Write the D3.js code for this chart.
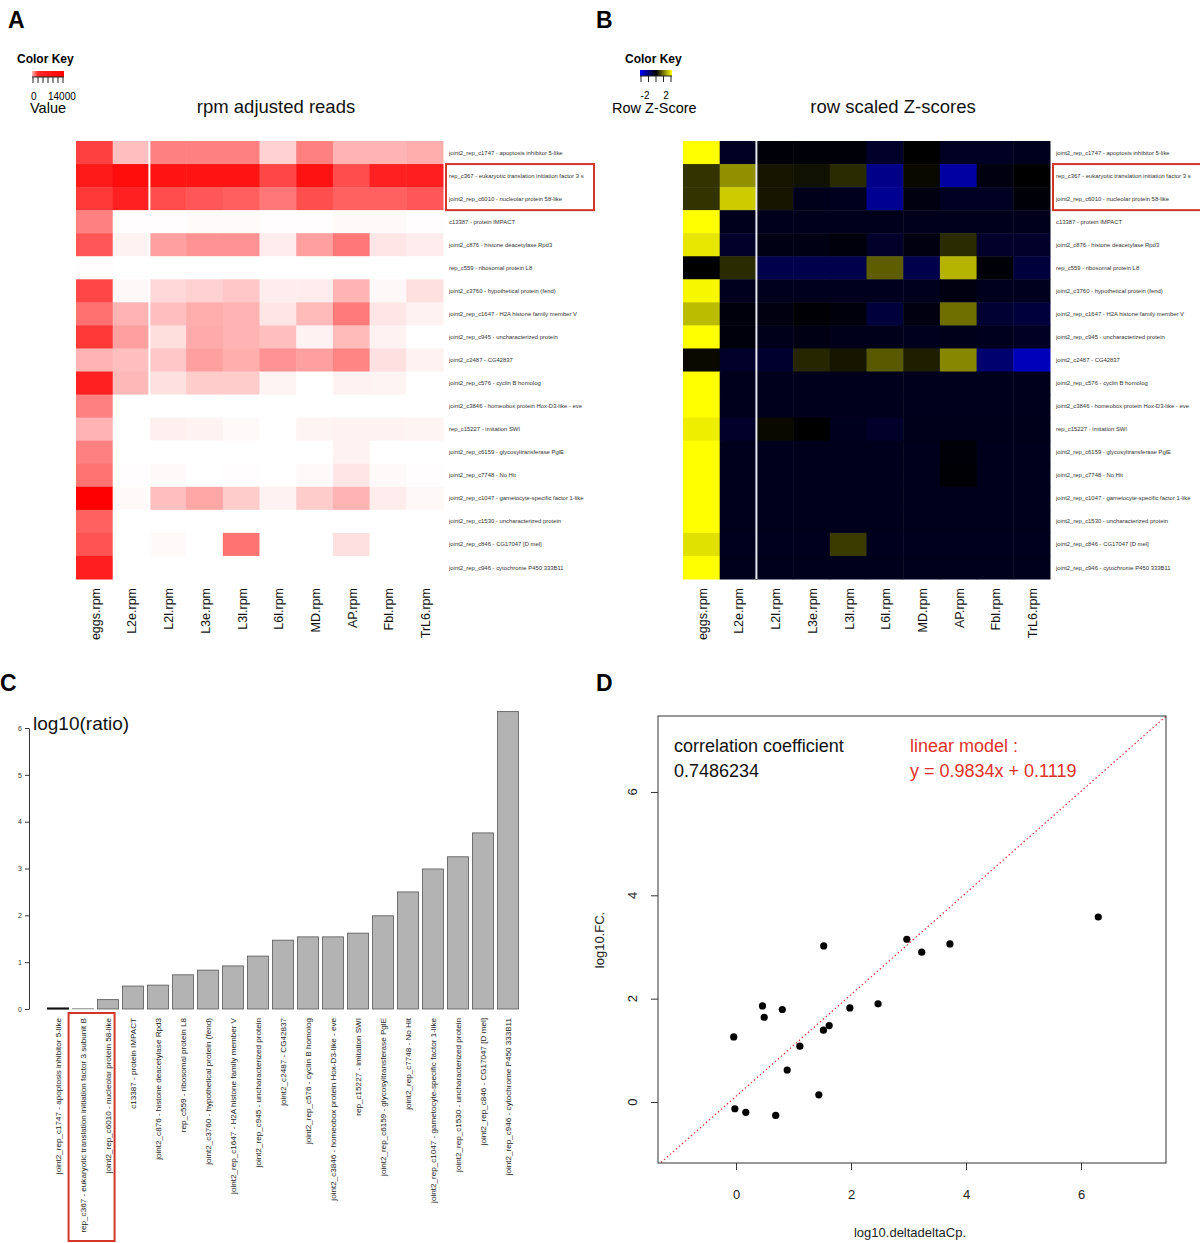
<!DOCTYPE html>
<html><head><meta charset="utf-8">
<script src="https://cdn.jsdelivr.net/npm/d3@7"></script>
<style>body{margin:0;background:#fff}svg{display:block}text{font-family:"Liberation Sans",Arial,sans-serif}</style>
</head><body><svg id="c" width="1200" height="1243"></svg>
<script>
const cols = ["eggs.rpm","L2e.rpm","L2l.rpm","L3e.rpm","L3l.rpm","L6l.rpm","MD.rpm","AP.rpm","Fbl.rpm","TrL6.rpm"];
const genes = [
"joint2_rep_c1747 - apoptosis inhibitor 5-like",
"rep_c367 - eukaryotic translation initiation factor 3 s",
"joint2_rep_c6010 - nucleolar protein 58-like",
"c13387 - protein IMPACT",
"joint2_c876 - histone deacetylase Rpd3",
"rep_c559 - ribosomal protein L8",
"joint2_c3760 - hypothetical protein (fend)",
"joint2_rep_c1647 - H2A histone family member V",
"joint2_rep_c945 - uncharacterized protein",
"joint2_c2487 - CG42837",
"joint2_rep_c576 - cyclin B homolog",
"joint2_c3846 - homeobox protein Hox-D3-like - eve",
"rep_c15227 - imitation SWI",
"joint2_rep_c6159 - glycosyltransferase PglE",
"joint2_rep_c7748 - No Hit",
"joint2_rep_c1047 - gametocyte-specific factor 1-like",
"joint2_rep_c1530 - uncharacterized protein",
"joint2_rep_c846 - CG17047 [D mel]",
"joint2_rep_c946 - cytochrome P450 333B11"];
const rpm = [
[10500,3500,7000,7000,7000,2500,7000,4200,4200,4500],
[12600,13300,12900,12900,12900,10100,13000,9800,12200,12300],
[10900,12200,9800,9200,8800,7400,9700,8700,8700,9200],
[7000,100,100,200,200,100,100,300,300,100],
[9200,700,5200,6000,6000,1000,5200,7400,1400,1000],
[100,0,0,0,0,0,0,0,0,0],
[10100,400,2100,2500,3100,1000,1000,4200,400,1700],
[7800,4200,3500,4500,4200,1400,3800,7300,1400,700],
[10900,5200,1800,4600,4200,3500,700,3800,700,0],
[4200,3500,3100,5200,4500,6000,5200,6700,1700,700],
[12200,3900,1700,2800,2800,600,0,700,600,0],
[7000,0,0,0,0,0,0,0,0,0],
[4200,0,800,700,300,0,600,700,700,600],
[7000,0,0,0,0,0,0,700,0,0],
[7700,100,300,0,100,0,300,1400,300,100],
[14000,300,3500,4900,2800,700,2800,4200,1000,400],
[8700,0,0,0,0,0,0,0,0,0],
[9500,0,300,0,7700,0,0,1700,0,0],
[12300,0,0,0,0,0,0,0,0,0]];
const zscores = [
[3,-0.4,-0.1,-0.1,-0.1,-0.5,0,-0.4,-0.4,-0.35],
[0.6,1.7,0.25,0.2,0.5,-1.6,0.1,-1.9,-0.2,0],
[0.6,2.4,0.25,-0.3,-0.35,-1.7,-0.2,-0.4,-0.4,-0.1],
[3,-0.33,-0.33,-0.33,-0.33,-0.33,-0.33,-0.33,-0.33,-0.33],
[2.7,-0.5,-0.25,-0.25,-0.15,-0.5,-0.2,0.5,-0.5,-0.5],
[0,0.5,-0.9,-0.9,-0.9,1.1,-0.9,2.1,-0.1,-0.7],
[2.9,-0.35,-0.35,-0.35,-0.35,-0.35,-0.35,-0.2,-0.35,-0.35],
[2.2,-0.15,-0.2,-0.05,-0.15,-0.7,-0.2,1.3,-0.6,-0.7],
[3,-0.15,-0.3,-0.25,-0.3,-0.3,-0.35,-0.3,-0.35,-0.4],
[0.1,-0.5,-0.55,0.45,0.25,1.05,0.35,1.6,-1.3,-2.2],
[3,-0.33,-0.33,-0.33,-0.33,-0.33,-0.33,-0.33,-0.33,-0.33],
[3,-0.33,-0.33,-0.33,-0.33,-0.33,-0.33,-0.33,-0.33,-0.33],
[2.8,-0.5,0.1,0,-0.35,-0.5,-0.3,-0.3,-0.3,-0.3],
[3,-0.33,-0.33,-0.33,-0.33,-0.33,-0.33,-0.1,-0.33,-0.33],
[3,-0.33,-0.33,-0.33,-0.33,-0.33,-0.33,-0.05,-0.33,-0.33],
[3,-0.33,-0.33,-0.33,-0.33,-0.33,-0.33,-0.33,-0.33,-0.33],
[3,-0.33,-0.33,-0.33,-0.33,-0.33,-0.33,-0.33,-0.33,-0.33],
[2.65,-0.35,-0.35,-0.35,0.7,-0.35,-0.35,-0.35,-0.35,-0.35],
[3,-0.33,-0.33,-0.33,-0.33,-0.33,-0.33,-0.33,-0.33,-0.33]];
const barLabels = [
"joint2_rep_c1747 - apoptosis inhibitor 5-like",
"rep_c367 - eukaryotic translation initiation factor 3 subunit B",
"joint2_rep_c6010 - nucleolar protein 58-like",
"c13387 - protein IMPACT",
"joint2_c876 - histone deacetylase Rpd3",
"rep_c559 - ribosomal protein L8",
"joint2_c3760 - hypothetical protein (fend)",
"joint2_rep_c1647 - H2A histone family member V",
"joint2_rep_c945 - uncharacterized protein",
"joint2_c2487 - CG42837",
"joint2_rep_c576 - cyclin B homolog",
"joint2_c3846 - homeobox protein Hox-D3-like - eve",
"rep_c15227 - imitation SWI",
"joint2_rep_c6159 - glycosyltransferase PglE",
"joint2_rep_c7748 - No Hit",
"joint2_rep_c1047 - gametocyte-specific factor 1-like",
"joint2_rep_c1530 - uncharacterized protein",
"joint2_rep_c846 - CG17047 [D mel]",
"joint2_rep_c946 - cytochrome P450 333B11"];
const barValues = [0.02,0.01,0.2,0.49,0.51,0.73,0.83,0.92,1.13,1.47,1.54,1.54,1.62,1.99,2.5,2.99,3.25,3.76,6.35];
const barTicks = [0,1,2,3,4,5,6];
const scatterX = [-0.04,-0.02,0.17,0.46,0.49,0.69,0.805,0.89,1.11,1.44,1.52,1.525,1.62,1.98,2.47,2.97,3.23,3.72,6.3];
const scatterY = [1.26,-0.13,-0.2,1.86,1.64,-0.26,1.79,0.62,1.08,0.14,1.39,3.02,1.48,1.82,1.9,3.15,2.9,3.06,3.58];
const scatterTicks = [0,2,4,6];
const lmSlope = 0.9834, lmIntercept = 0.1119;

const svg = d3.select("#c");
const redBox = "#d2352a";

[["A",8,28],["B",596,28],["C",0,691],["D",596,691]].forEach(([t,x,y])=>
  svg.append("text").attr("x",x).attr("y",y).attr("font-size",23).attr("font-weight","bold").text(t));

function heatmap(x0, x1, color, values, title, titleX, sepColor){
  const x = d3.scaleBand().domain(cols).range([x0,x1]);
  const y = d3.scaleBand().domain(genes).range([141,579]);
  const g = svg.append("g");
  genes.forEach((gn,i)=>cols.forEach((c,j)=>{
    g.append("rect").attr("x",x(c)).attr("y",y(gn)).attr("width",x.bandwidth()+0.5).attr("height",y.bandwidth()+0.5)
     .attr("fill",color(values[i][j]));
  }));
  g.append("line").attr("x1",x(cols[2])).attr("x2",x(cols[2])).attr("y1",141).attr("y2",579)
   .attr("stroke",sepColor).attr("stroke-width",2);
  genes.forEach(gn=>g.append("text").attr("x",x1+6).attr("y",y(gn)+y.bandwidth()/2).attr("dy","0.35em")
    .attr("font-size",5.9).attr("fill","#333").text(gn));
  cols.forEach(c=>g.append("text").attr("transform",`translate(${x(c)+x.bandwidth()/2+1},588) rotate(-90)`)
    .attr("text-anchor","end").attr("dy","0.35em").attr("font-size",12.5).attr("fill","#111").text(c));
  svg.append("text").attr("x",titleX).attr("y",113).attr("text-anchor","middle").attr("font-size",18.5).attr("fill","#111").text(title);
  svg.append("rect").attr("x",x1+3).attr("y",y(genes[1])).attr("width",148).attr("height",y.bandwidth()*2)
    .attr("fill","none").attr("stroke",redBox).attr("stroke-width",2);
}
const redScale = d3.scaleLinear().domain([0,14000]).range(["#ffffff","#ff0000"]).clamp(true);
const zScale = d3.scaleLinear().domain([-3,0,3]).range(["#0000ff","#000000","#ffff00"]).clamp(true);
heatmap(76,443,redScale,rpm,"rpm adjusted reads",276,"#ffffff");
heatmap(683,1050,zScale,zscores,"row scaled Z-scores",893,"#e8e8f0");

const defs = svg.append("defs");
const gA = defs.append("linearGradient").attr("id","gA");
[[0,"#ffb8b8"],[0.18,"#ff2a2a"],[1,"#ff0000"]].forEach(([o,c])=>gA.append("stop").attr("offset",o).attr("stop-color",c));
const gB = defs.append("linearGradient").attr("id","gB");
[[0,"#0000ff"],[0.5,"#000000"],[1,"#ffff00"]].forEach(([o,c])=>gB.append("stop").attr("offset",o).attr("stop-color",c));
function key(x, y, w, grad, nt){
  svg.append("rect").attr("x",x).attr("y",y).attr("width",w).attr("height",6).attr("fill",`url(#${grad})`);
  for(let i=0;i<nt;i++){const tx=x+1+i*(w-2)/(nt-1);
    svg.append("line").attr("x1",tx).attr("x2",tx).attr("y1",y+6).attr("y2",y+12).attr("stroke","#222").attr("stroke-width",1);}
  svg.append("line").attr("x1",x).attr("x2",x+w).attr("y1",y+6).attr("y2",y+6).attr("stroke","#222");
}
svg.append("text").attr("x",17).attr("y",63).attr("font-size",12).attr("font-weight","bold").text("Color Key");
key(32,71,32,"gA",7);
svg.append("text").attr("x",31).attr("y",100).attr("font-size",10).text("0");
svg.append("text").attr("x",48).attr("y",100).attr("font-size",10).text("14000");
svg.append("text").attr("x",30).attr("y",113).attr("font-size",14.5).text("Value");
svg.append("text").attr("x",625).attr("y",63).attr("font-size",12).attr("font-weight","bold").text("Color Key");
key(640,70,32,"gB",5);
svg.append("text").attr("x",645).attr("y",99).attr("text-anchor","middle").attr("font-size",10).text("-2");
svg.append("text").attr("x",666).attr("y",99).attr("text-anchor","middle").attr("font-size",10).text("2");
svg.append("text").attr("x",612).attr("y",113).attr("font-size",14.5).text("Row Z-Score");

// Panel C
const xC = d3.scaleBand().domain(barLabels).range([45.5,520.5]).paddingInner(0.1667).paddingOuter(0.0833);
const yC = d3.scaleLinear().domain([0,6]).range([1009,728]);
const gC = svg.append("g");
barLabels.forEach((l,i)=>{
  const fill = i===0?"#222":(i===1?"#d8d8d8":"#b3b3b3");
  const stroke = i===0?"#111":(i===1?"#aaa":"#555");
  gC.append("rect").attr("x",xC(l)).attr("y",yC(barValues[i])).attr("width",xC.bandwidth())
   .attr("height",yC(0)-yC(barValues[i])).attr("fill",fill).attr("stroke",stroke).attr("stroke-width",i===0?1.2:0.8);
  gC.append("text").attr("transform",`translate(${xC(l)+xC.bandwidth()/2},1018) rotate(-90)`)
   .attr("text-anchor","end").attr("dy","0.35em").attr("font-size",8.1).attr("fill","#222").text(l);
});
const axC = svg.append("g").attr("transform","translate(29,0)").call(d3.axisLeft(yC).tickValues(barTicks).tickFormat(d3.format("d")).tickSize(4).tickSizeOuter(0));
axC.selectAll("text").attr("font-size",7).attr("fill","#333").attr("font-family","Liberation Sans");
axC.selectAll("path,line").attr("stroke","#333");
svg.append("text").attr("x",33).attr("y",730).attr("font-size",19).attr("font-family","Open Sans").attr("fill","#111").text("log10(ratio)");
svg.append("rect").attr("x",xC(barLabels[1])-4).attr("y",1013).attr("width",46).attr("height",228)
  .attr("fill","none").attr("stroke",redBox).attr("stroke-width",2);

// Panel D
const xD = d3.scaleLinear().domain([-1.357,7.478]).range([658,1166]);
const yD = d3.scaleLinear().domain([-1.18,7.47]).range([1163,716]);
defs.append("clipPath").attr("id","clipD").append("rect").attr("x",658).attr("y",716).attr("width",508).attr("height",447);
svg.append("line").attr("clip-path","url(#clipD)")
  .attr("x1",xD(-1.357)).attr("y1",yD(lmSlope*-1.357+lmIntercept))
  .attr("x2",xD(7.478)).attr("y2",yD(lmSlope*7.478+lmIntercept))
  .attr("stroke","#e0303a").attr("stroke-width",1.2).attr("stroke-dasharray","1.5,2.5");
scatterX.forEach((v,i)=>svg.append("circle").attr("cx",xD(v)).attr("cy",yD(scatterY[i])).attr("r",3.6).attr("fill","#000"));
svg.append("rect").attr("x",658).attr("y",716).attr("width",508).attr("height",447).attr("fill","none").attr("stroke","#333").attr("stroke-width",1);
const axDx = svg.append("g").attr("transform","translate(0,1163)").call(d3.axisBottom(xD).tickValues(scatterTicks).tickSize(7).tickPadding(20).tickSizeOuter(0));
axDx.select(".domain").remove();
axDx.selectAll("text").attr("font-size",13).attr("fill","#222").attr("font-family","Liberation Sans");
axDx.selectAll("line").attr("stroke","#333");
const axDy = svg.append("g").attr("transform","translate(658,0)").call(d3.axisLeft(yD).tickValues(scatterTicks).tickSize(7).tickSizeOuter(0));
axDy.select(".domain").remove();
axDy.selectAll("line").attr("stroke","#333");
axDy.selectAll("text").remove();
scatterTicks.forEach(t=>svg.append("text").attr("transform",`translate(637,${yD(t)}) rotate(-90)`)
  .attr("text-anchor","middle").attr("font-size",13).attr("fill","#222").text(t));
svg.append("text").attr("x",910).attr("y",1237).attr("text-anchor","middle").attr("font-size",13).attr("fill","#222").text("log10.deltadeltaCp.");
svg.append("text").attr("transform","translate(604,940) rotate(-90)").attr("text-anchor","middle").attr("font-size",13).attr("fill","#222").text("log10.FC.");
svg.append("text").attr("x",674).attr("y",752).attr("font-size",18).attr("font-family","Open Sans").attr("fill","#111").text("correlation coefficient");
svg.append("text").attr("x",674).attr("y",777).attr("font-size",18).attr("font-family","Open Sans").attr("fill","#111").text("0.7486234");
svg.append("text").attr("x",910).attr("y",752).attr("font-size",18).attr("font-family","Open Sans").attr("fill","#e0302a").text("linear model :");
svg.append("text").attr("x",910).attr("y",777).attr("font-size",18).attr("font-family","Open Sans").attr("fill","#e0302a").text("y = 0.9834x + 0.1119");
</script></body></html>
